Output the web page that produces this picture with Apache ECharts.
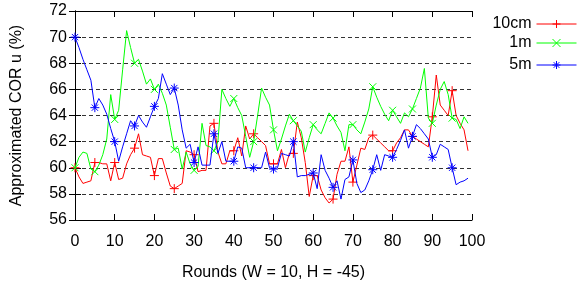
<!DOCTYPE html>
<html>
<head>
<meta charset="utf-8">
<script src="https://cdn.jsdelivr.net/npm/echarts@6/dist/echarts.min.js"></script>
<style>
  html, body { margin: 0; padding: 0; background: #fff; }
  #chart { width: 577px; height: 286px; }
</style>
</head>
<body>
<div id="chart"></div>
<script>
// series names / colours
var names = ['10cm', '1m', '5m'];
var colors = ['#ff0000', '#00ff00', '#0000ff'];

// values per round (round = index, 0..99)
var cm10 = [60.0, 59.3, 58.8, 58.9, 59.0, 60.4, 60.4, 60.3, 60.3, 59.0,
            60.4, 59.1, 59.2, 60.3, 61.0, 61.5, 62.6, 61.0, 60.9, 60.8,
            59.4, 60.7, 60.7, 59.6, 58.6, 58.4, 58.6, 58.8, 61.3, 61.2,
            61.0, 59.7, 59.8, 59.8, 63.2, 63.4, 61.2, 60.3, 60.3, 61.3,
            61.3, 62.3, 60.9, 63.2, 62.2, 62.6, 62.3, 62.0, 61.7, 60.3,
            60.3, 60.3, 61.4, 60.0, 61.1, 61.1, 63.5, 62.3, 60.4, 57.8,
            59.4, 59.4, 58.3, 57.7, 57.3, 57.6, 59.5, 60.5, 60.5, 61.6,
            58.9, 60.2, 61.5, 61.4, 62.3, 62.5, 62.2, 61.9, 61.6, 61.3,
            61.3, 61.9, 62.3, 62.9, 62.9, 62.4, 62.2, 62.0, 61.8, 61.6,
            63.9, 67.1, 64.8, 64.4, 64.0, 65.9, 64.0, 63.4, 62.9, 61.3];

var m1 = [60.0, 60.8, 61.2, 61.1, 59.9, 59.7, 60.2, 61.0, 62.2, 65.6,
          63.7, 64.4, 67.5, 70.5, 69.2, 68.0, 68.3, 67.4, 66.4, 66.8,
          66.0, 66.4, 65.7, 64.8, 63.1, 61.4, 61.5, 59.9, 61.2, 60.3,
          59.8, 60.1, 63.4, 61.7, 61.6, 61.3, 62.0, 66.0, 65.3, 64.7,
          65.3, 64.6, 64.0, 62.4, 60.8, 62.0, 64.0, 66.1, 65.4, 64.8,
          62.9, 61.3, 62.2, 63.2, 64.1, 63.6, 63.2, 62.8, 61.2, 62.3,
          63.3, 62.9, 62.6, 63.4, 64.2, 63.8, 63.2, 62.7, 61.3, 63.3,
          63.3, 62.9, 62.6, 63.5, 64.5, 66.2, 65.4, 64.7, 64.1, 63.6,
          64.4, 63.9, 63.4, 64.2, 63.9, 64.5, 65.3, 66.1, 67.6, 63.8,
          63.4, 64.8, 66.0, 66.6, 65.6, 63.8, 63.7, 63.0, 63.9, 63.4];

var m5 = [70.0, 69.2, 68.3, 67.5, 66.7, 64.6, 65.3, 64.8, 64.1, 63.0,
          62.0, 60.5, 61.6, 62.6, 63.6, 63.2, 64.0, 63.5, 63.1, 63.9,
          64.7, 65.3, 67.2, 66.4, 65.6, 66.1, 64.8, 62.9, 61.5, 61.8,
          60.4, 61.6, 60.2, 60.2, 60.2, 62.6, 61.1, 62.0, 60.5, 60.5,
          60.5, 61.6, 61.5, 60.0, 60.0, 60.0, 60.0, 60.0, 61.2, 60.0,
          59.9, 60.0, 61.1, 61.0, 60.9, 62.0, 59.3, 59.4, 59.4, 59.5,
          59.6, 58.4, 61.0, 59.8, 59.2, 58.5, 59.0, 57.6, 59.1, 59.3,
          60.6, 58.8, 58.1, 58.3, 59.0, 59.85, 61.0, 59.8, 61.0, 60.9,
          60.8, 61.4, 62.1, 62.9, 61.5, 62.4, 63.3, 63.0, 62.6, 62.2,
          60.8, 61.0, 61.8, 61.6, 61.4, 60.0, 58.7, 58.9, 59.0, 59.2];

// gnuplot-like point types
var plus = 'path://M5,0L5,10M0,5L10,5';
var cross = 'path://M0,0L10,10M10,0L0,10';
var star = 'path://M5,0L5,10M0,5L10,5M1.5,1.5L8.5,8.5M8.5,1.5L1.5,8.5';
var marks = [plus, cross, star];
var markSize = [9, 7, 9];
var allValues = [cm10, m1, m5];

// a point marker every 5 rounds
function points(vals, mark) {
  return vals.map(function (v, i) {
    return { value: [i, v], symbol: i % 5 === 0 ? mark : 'none' };
  });
}

var chart = echarts.init(document.getElementById('chart'));

var series = names.map(function (n, k) {
  return {
    name: n,
    type: 'line',
    data: points(allValues[k], marks[k]),
    symbol: marks[k],
    symbolSize: markSize[k],
    showSymbol: true,
    showAllSymbol: true,
    color: colors[k],
    lineStyle: { width: 1, color: colors[k] },
    itemStyle: { color: colors[k], borderColor: colors[k], borderWidth: 1 },
    emphasis: { disabled: true },
    z: 2 + k
  };
});

var legendTops = [16, 35, 57];
var legends = names.map(function (n, k) {
  return {
    data: [n],
    right: 0,
    top: legendTops[k],
    padding: 0,
    align: 'right',
    itemWidth: 40,
    itemHeight: 10,
    selectedMode: false,
    itemStyle: { borderWidth: 1 },
    lineStyle: { width: 1 },
    textStyle: { fontSize: 16, color: '#000' }
  };
});

var axisLine = { lineStyle: { color: '#000', width: 1 } };
var tick = { inside: true, length: 6, lineStyle: { color: '#000' } };

var option = {
  animation: false,
  textStyle: { fontFamily: 'Liberation Sans, Arial, sans-serif' },
  legend: legends,
  grid: { left: 75, right: 105, top: 11, bottom: 65 },
  xAxis: [
    {
      type: 'value', min: 0, max: 100, interval: 10,
      position: 'bottom',
      axisLine: axisLine, axisTick: tick,
      axisLabel: { fontSize: 16, color: '#000', margin: 14 },
      splitLine: { show: false },
      name: 'Rounds (W = 10, H = -45)',
      nameLocation: 'middle',
      nameGap: 45,
      nameTextStyle: { fontSize: 16, color: '#000' }
    },
    {
      type: 'value', min: 0, max: 100, interval: 10,
      position: 'top',
      axisLine: axisLine, axisTick: tick,
      axisLabel: { show: false },
      splitLine: { show: false }
    }
  ],
  yAxis: [
    {
      type: 'value', min: 56, max: 72, interval: 2,
      position: 'left',
      axisLine: axisLine, axisTick: tick,
      axisLabel: { fontSize: 16, color: '#000', margin: 8 },
      splitLine: { show: true, lineStyle: { color: '#333', width: 1, type: [4, 3] } },
      name: 'Approximated COR u (%)',
      nameLocation: 'middle',
      nameGap: 50,
      nameTextStyle: { fontSize: 16, color: '#000' }
    },
    {
      type: 'value', min: 56, max: 72, interval: 2,
      position: 'right',
      axisLine: axisLine, axisTick: tick,
      axisLabel: { show: false },
      splitLine: { show: false }
    }
  ],
  series: series
};

chart.setOption(option);
</script>
</body>
</html>
